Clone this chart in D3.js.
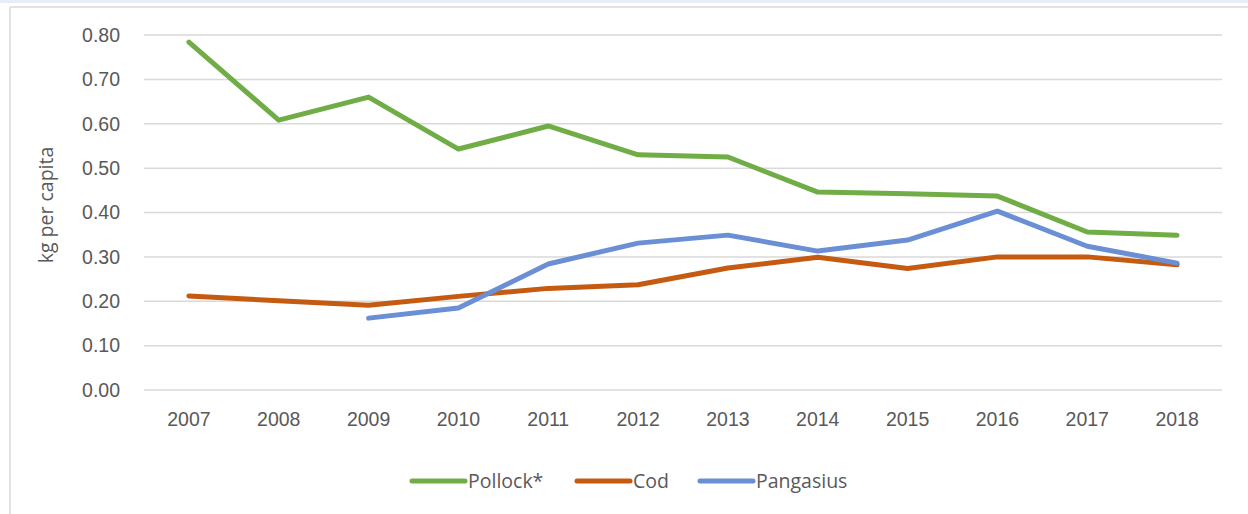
<!DOCTYPE html>
<html>
<head>
<meta charset="utf-8">
<script src="https://cdn.jsdelivr.net/npm/d3@7"></script>
<style>
  body { margin: 0; background: #fff; }
  svg { display: block; font-family: "Open Sans", "Noto Sans", sans-serif; }
</style>
</head>
<body>
<svg id="chart"></svg>
<script>
// Data
const years = ["2007", "2008", "2009", "2010", "2011", "2012", "2013", "2014", "2015", "2016", "2017", "2018"];
const pollock = [0.784, 0.608, 0.660, 0.543, 0.595, 0.530, 0.525, 0.446, 0.442, 0.437, 0.356, 0.349];
const cod = [0.212, 0.201, 0.191, 0.211, 0.229, 0.237, 0.275, 0.299, 0.274, 0.300, 0.300, 0.282];
const pangasius = [null, null, 0.162, 0.185, 0.284, 0.331, 0.349, 0.313, 0.338, 0.403, 0.324, 0.286];
const yTicks = [0, 0.1, 0.2, 0.3, 0.4, 0.5, 0.6, 0.7, 0.8];

const series = [
  { name: "Pollock*", values: pollock, color: "#70ad47" },
  { name: "Cod", values: cod, color: "#c55a11" },
  { name: "Pangasius", values: pangasius, color: "#6b8fd4" }
];

const W = 1248, H = 514;
const margin = { top: 35, right: 26, bottom: 124, left: 144 };
const width = W - margin.left - margin.right;
const height = H - margin.top - margin.bottom;
const fontSize = "19.5px";

const svg = d3.select("#chart").attr("width", W).attr("height", H);

// frame bits: light band at top, thin grey border
svg.append("rect").attr("x", 0).attr("y", 0).attr("width", W).attr("height", 3).attr("fill", "#e8eef8");
svg.append("line").attr("x1", 10).attr("x2", W).attr("y1", 7).attr("y2", 7)
  .attr("stroke", "#d9d9d9").attr("stroke-width", 1.5);
svg.append("line").attr("x1", 10).attr("x2", 10).attr("y1", 7).attr("y2", H)
  .attr("stroke", "#d9d9d9").attr("stroke-width", 1.5);

const g = svg.append("g").attr("transform", `translate(${margin.left},${margin.top})`);

const x = d3.scaleBand().domain(years).range([0, width]);
const y = d3.scaleLinear().domain([0, 0.8]).range([height, 0]);

// gridlines
g.append("g")
  .selectAll("line")
  .data(yTicks)
  .join("line")
  .attr("x1", 0).attr("x2", width)
  .attr("y1", d => y(d)).attr("y2", d => y(d))
  .attr("stroke", "#d9d9d9").attr("stroke-width", 1.5);

// y axis labels
const yAxis = g.append("g")
  .call(d3.axisLeft(y).tickValues(yTicks).tickFormat(d3.format(".2f")).tickSize(0).tickPadding(24));
yAxis.select(".domain").remove();
yAxis.selectAll("text").attr("fill", "#595959").style("font-size", fontSize);

// x axis labels
const xAxis = g.append("g")
  .attr("transform", `translate(0,${height})`)
  .call(d3.axisBottom(x).tickSize(0).tickPadding(22));
xAxis.select(".domain").remove();
xAxis.selectAll("text").attr("fill", "#595959").style("font-size", fontSize);

// y title
svg.append("text")
  .attr("transform", `translate(53,205) rotate(-90)`)
  .attr("text-anchor", "middle")
  .attr("fill", "#595959")
  .style("font-size", fontSize)
  .text("kg per capita");

// lines
const line = d3.line()
  .defined(d => d != null)
  .x((d, i) => x(years[i]) + x.bandwidth() / 2)
  .y(d => y(d));

series.forEach(s => {
  g.append("path")
    .datum(s.values)
    .attr("fill", "none")
    .attr("stroke", s.color)
    .attr("stroke-width", 5)
    .attr("stroke-linecap", "round")
    .attr("stroke-linejoin", "round")
    .attr("d", line);
});

// legend
const legendX = [412, 577, 700];
const legend = svg.append("g").attr("transform", "translate(0,481)");
series.forEach((s, i) => {
  const lg = legend.append("g").attr("transform", `translate(${legendX[i]},0)`);
  lg.append("line").attr("x1", 0).attr("x2", 53).attr("y1", 0).attr("y2", 0)
    .attr("stroke", s.color).attr("stroke-width", 5).attr("stroke-linecap", "round");
  lg.append("text").attr("x", 56).attr("y", 0).attr("dy", "0.35em")
    .attr("fill", "#595959").style("font-size", fontSize).text(s.name);
});
</script>
</body>
</html>
